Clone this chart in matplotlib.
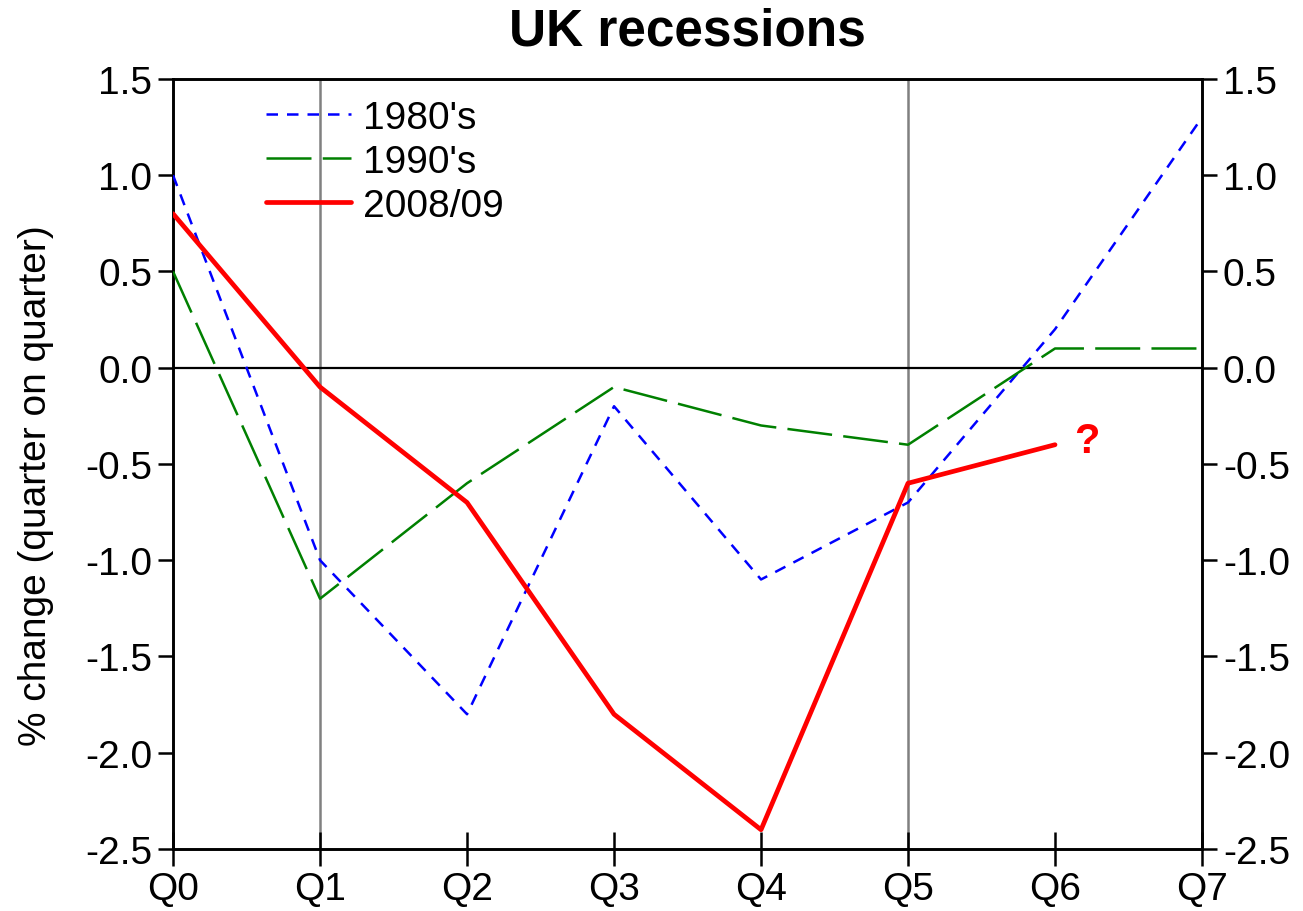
import matplotlib
matplotlib.use("Agg")
import matplotlib.pyplot as plt

plt.rcParams['font.family'] = ['Liberation Sans', 'DejaVu Sans']

quarters = ["Q0", "Q1", "Q2", "Q3", "Q4", "Q5", "Q6", "Q7"]
rec_1980s = [1.0, -1.0, -1.8, -0.2, -1.1, -0.7, 0.2, 1.3]
rec_1990s = [0.5, -1.2, -0.6, -0.1, -0.3, -0.4, 0.1, 0.1]
rec_2008 = [0.8, -0.1, -0.7, -1.8, -2.4, -0.6, -0.4]
yticks = [-2.5, -2.0, -1.5, -1.0, -0.5, 0.0, 0.5, 1.0, 1.5]

fig = plt.figure(figsize=(13.03, 9.12), dpi=100)
ax = fig.add_axes([0.1328, 0.068, 0.7897, 0.8443])

x = list(range(len(quarters)))
ax.axvline(1, color='#808080', lw=1.8, zorder=1)
ax.axvline(5, color='#808080', lw=1.8, zorder=1)
ax.axhline(0, color='black', lw=1.6, zorder=1)

ax.plot(x, rec_1980s, color='#0000ff', lw=1.8, dashes=(4.6, 3.6), label="1980's", zorder=3)
ax.plot(x, rec_1990s, color='#008000', lw=1.8, dashes=(18, 4.5), label="1990's", zorder=3)
ax.plot(x[:len(rec_2008)], rec_2008, color='#ff0000', lw=3.4, label="2008/09", zorder=4,
        solid_capstyle='round')

ax.text(6.13, -0.38, "?", color='#ff0000', fontsize=30, fontweight='bold',
        ha='left', va='center')

ax.set_xlim(0, 7)
ax.set_ylim(-2.5, 1.5)
ax.set_xticks(x)
ax.set_xticklabels(quarters)
ax.set_yticks(yticks)
ax.set_yticklabels([f"{v:.1f}" for v in yticks])
ax.tick_params(axis='x', direction='inout', length=24, width=1.8, labelsize=28, pad=4)
ax.tick_params(axis='y', direction='out', length=11, width=1.8, labelsize=28, pad=4,
               right=True, labelright=True)
for s in ax.spines.values():
    s.set_linewidth(2.1)

ax.set_ylabel("% change (quarter on quarter)", fontsize=28)
ax.yaxis.set_label_coords(-0.116, 0.473)
ax.set_title("UK recessions", fontsize=37, fontweight='bold', pad=25)

leg = ax.legend(loc='upper left', bbox_to_anchor=(0.0675, 1.003), frameon=False,
                fontsize=28, handlelength=2.2, handletextpad=0.3, labelspacing=0.2,
                borderaxespad=0.2)

fig.savefig("out.png", dpi=100)
